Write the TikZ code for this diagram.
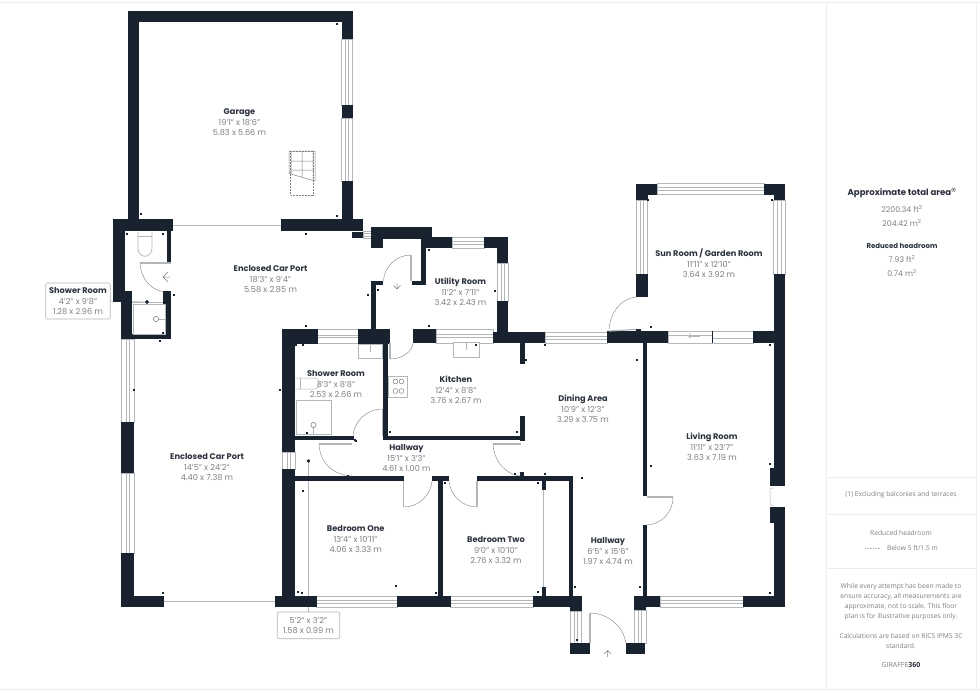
\documentclass[tikz,border=0pt]{standalone}
\usepackage{fontspec}
\setmainfont{Poppins}
\newfontfamily\panelf{Open Sans}
\usetikzlibrary{arrows.meta}
\definecolor{wallc}{HTML}{19232F}
\definecolor{glassc}{HTML}{B4B7BA}
\definecolor{titlec}{HTML}{2B323C}
\definecolor{dimc}{HTML}{7C8084}
\definecolor{panelc}{HTML}{ECEDEE}
\tikzset{
  wallf/.style={fill=wallc,draw=none},
  glass/.style={draw=glassc,line width=0.7pt,fill=white},
  fixture/.style={draw=glassc,line width=0.9pt,fill=white},
  thinf/.style={draw=glassc,line width=0.6pt},
  doorarc/.style={draw=gray!85,line width=0.5pt},
  leaf/.style={draw=glassc,line width=1.2pt},
  lab/.style={align=center,inner sep=0pt,font=\fontsize{8.2}{10}\selectfont,text=dimc},
  tbox/.style={draw=glassc,line width=0.7pt,rounded corners=1.5pt,fill=white,minimum height=0pt},
  paneltxt/.style={inner sep=0pt,align=center,font=\panelf\fontsize{6.7}{10}\selectfont,text=dimc},
  leader/.style={draw=glassc,line width=0.6pt},
}
\newcommand{\wl}[4]{\fill[wallc] (#1,#2) rectangle (#3,#4);}
\newcommand{\winH}[4]{\fill[white] (#1,#2) rectangle (#3,#4);
  \draw[glass] (#1,#2) rectangle (#3,#4);
  \draw[thinf] (#1,{(#2+#4)/2-1.3}) -- (#3,{(#2+#4)/2-1.3}) (#1,{(#2+#4)/2+1.3}) -- (#3,{(#2+#4)/2+1.3});}
\newcommand{\winV}[4]{\fill[white] (#1,#2) rectangle (#3,#4);
  \draw[glass] (#1,#2) rectangle (#3,#4);
  \draw[thinf] ({(#1+#3)/2-1.7},#2) -- ({(#1+#3)/2-1.7},#4) ({(#1+#3)/2+1.7},#2) -- ({(#1+#3)/2+1.7},#4);}
\newcommand{\tk}[2]{\fill[wallc] (#1-0.6,#2-0.6) rectangle (#1+0.6,#2+0.6);}
\newcommand{\rlab}[6]{\node[lab] (#1) at (#2,#3) {{\bfseries\color{titlec}#4}\\[1pt]#5\\#6};}
\begin{document}
\begin{tikzpicture}[x=1pt,y=-1pt]
\useasboundingbox (0,0) rectangle (980,693);
\fill[white] (0,0) rectangle (980,693);
% page frame / panel
\draw[panelc,line width=1pt] (0,3) -- (980,3);
\draw[panelc,line width=1pt] (0,689) -- (980,689);
\draw[panelc,line width=1pt] (826.5,3) -- (826.5,689);
\draw[panelc,line width=1pt] (976,3) -- (976,689);
\draw[panelc,line width=1pt] (826.5,477) -- (976,477);
\draw[panelc,line width=1pt] (826.5,514) -- (976,514);
\draw[panelc,line width=1pt] (826.5,568) -- (976,568);

% === Dimension boxes and leaders (beneath the walls) ===
\node[circle,fill=wallc,inner sep=0pt,minimum size=3.8pt] (dotA) at (147,302) {};
\node[circle,fill=wallc,inner sep=0pt,minimum size=3.8pt] (dotB) at (308.5,461) {};
\node[tbox,minimum width=64.5pt,minimum height=36pt,inner sep=0pt] (boxA) at (78,301) {};
\node[tbox,minimum width=62.5pt,minimum height=26.7pt,inner sep=0pt] (boxB) at (308.5,625.3) {};
\draw[leader] (boxA.east) -- (dotA);
\draw[leader] (dotB) -- (boxB.north);

% === Windows ===
\winV{341.5}{39}{352.5}{105}
\winV{341.5}{118}{352.5}{181}
\winV{121}{339}{134}{422}
\winV{121}{473}{134}{553}
\winV{282}{452}{295}{469}
\winH{317.5}{329}{358}{343.5}
\winH{316}{596}{397}{607}
\winH{450}{596}{533}{607}
\winH{436}{329}{493}{343}
\winH{452}{237}{484}{248}
\winV{497.3}{263}{508}{301}
\winH{545}{332}{607}{343}
\winH{657}{183.5}{764}{194.5}
\winV{636}{200}{647.5}{274}
\winV{773.5}{200}{785}{274}
\winH{660}{596}{743}{607}
\winV{570}{611}{581.5}{643}
\winV{634}{610}{646}{643}
\winH{363}{231}{371}{238}
% glazed door of sun room
\draw[glass] (668,331) rectangle (753,343);
\draw[thinf] (668,335) -- (712.5,335) (712.5,338.5) -- (753,338.5);
\fill[wallc] (712,331) rectangle (713.3,343);
\draw[thinf] (690,333) -- (690,338) (687.5,335.5) -- (690,338) -- (692.5,335.5);
\draw[thinf] (690,336) -- (700,336);

% === Garage ===
\wl{127.5}{11.5}{352.5}{22.5}
\wl{127.5}{11.5}{138.5}{225}
\wl{341.5}{11.5}{352.5}{39}
\wl{341.5}{105}{352.5}{118}
\wl{341.5}{181}{352.5}{225}
\wl{281}{219}{363}{231}
\wl{113}{219}{173}{231}
\draw[leaf,line width=1pt] (173,225) -- (281,225);
\wl{352}{232}{363}{238}
% stairs
\draw[thinf,line width=0.5pt,densely dotted,draw=gray] (290,151) rectangle (313.5,195);
\draw[thinf,line width=0.5pt,draw=gray] (289,151) -- (289,173.5) -- (315,181) -- (315,151) -- cycle
 (291,151) -- (291,173.5) (313,151) -- (313,180) (302,151) -- (302,177) (291,161) -- (313,161) (291,170) -- (313,170);

% === Shower room, upper-left ===
\wl{113}{219}{124.5}{302}
\wl{121}{291}{132}{339}
\wl{121}{334}{171}{339}
\wl{167}{231}{171}{263}
\wl{163}{291}{171}{339}
% toilet
\draw[fixture,line width=.7pt] (138,232) -- (138,248) .. controls (138,259) and (152,259) .. (152,248) -- (152,232);
\draw[thinf] (138,236) -- (152,236);
% door
\draw[leaf] (140,263) -- (171,263);
\draw[doorarc] (140,263) .. controls (141,280) and (152,290) .. (163,291.5);
\draw[draw=gray,line width=.5pt] (170,277) -- (163,277) (168,272) -- (163,277) -- (168,282);
% shower
\draw[fixture] (133,304) rectangle (165.5,334);
\draw[thinf,draw=gray] (156,319) circle[radius=2.6];
\draw[thinf] (158.6,319) -- (166,319);
\draw[thinf] (132,302.5) -- (163,302.5);
\node[circle,fill=wallc,inner sep=0pt,minimum size=3.8pt] (dotAtop) at (147,302) {};

% === West wall carport ===
\wl{121}{422}{134}{473}
\wl{121}{553}{134}{606.7}
\wl{121}{596}{163.5}{606.7}
\draw[leaf,line width=1pt] (163.5,601.5) -- (275,601.5);
\wl{275}{596}{316.5}{606.7}

% === Central west wall ===
\wl{282}{329}{295}{452}
\wl{282}{469}{295}{600}
\wl{282}{329}{317.5}{343.5}
\wl{358}{329}{390}{344}
\wl{383.3}{344}{388}{440}
\wl{295}{435.7}{353.5}{440}
\wl{383}{435.7}{525}{440}
\wl{295}{476}{404}{481}
\wl{432}{476}{449}{481}
\wl{477}{476}{573}{481}
\wl{438}{481}{443}{600}
\wl{569}{476}{573.3}{600}
\wl{396.7}{596}{450.5}{607}
\wl{533}{596}{581.5}{607}
\wl{570}{600}{581.5}{611}
\wl{570}{643}{590}{654}
\wl{625.7}{643}{645}{654}
\wl{520}{472}{524}{476}
\wl{541.5}{481}{545.5}{490}
\wl{541.5}{587}{545.5}{596}
\draw[leaf] (543.5,490) -- (543.5,587);

% === Doors in hall ===
\draw[leaf] (319,444) -- (352,444);
\draw[doorarc] (319,444) .. controls (320,463) and (333,475) .. (352,476);
\draw[leaf] (493,444) -- (521,444);
\draw[doorarc] (493,444) .. controls (494,461) and (505,474) .. (520,476);
\draw[leaf] (382.5,409) -- (382.5,436);
\draw[doorarc] (382.5,409) .. controls (366,409) and (354,422) .. (353,436);
\draw[leaf] (403.7,481) -- (403.7,507);
\draw[doorarc] (403.7,507) .. controls (419,507) and (431,495) .. (432,481);
\draw[leaf] (477,481) -- (477,507);
\draw[doorarc] (477,507) .. controls (462,507) and (450,495) .. (449,481);
\draw[leaf] (390,343) -- (390,359);
\draw[doorarc] (390,359) .. controls (402,359) and (412,352) .. (413,343);

% shower room 2 fixtures
\draw[fixture] (296,400) rectangle (331,434.7);
\draw[thinf,draw=gray] (313.5,425) circle[radius=2.6];
\draw[thinf] (313.5,427.6) -- (313.5,434);
\draw[fixture] (358.5,344) rectangle (382,358);
\draw[thinf] (370.5,344) -- (370.5,352);
\draw[thinf,line width=.5pt] (295,378) -- (315,378) .. controls (321,378) and (321,389) .. (315,389) -- (295,389);
\draw[thinf,line width=.5pt] (300,378) -- (300,389);

% kitchen
\wl{413}{329}{436}{343}
\draw[fixture] (453.5,342.5) rectangle (479.5,357);
\draw[thinf] (466.5,342.5) -- (466.5,350);
\draw[fixture,line width=.6pt] (388,376) rectangle (407,397);
\foreach \cx/\cy in {394.5/381.5,400.5/381.5,394.5/391,400.5/391}{
  \draw[thinf,line width=.5pt,draw=gray] (\cx+1,\cy) circle[radius=2.4];
}
\wl{520}{343}{524.5}{363.5}
\wl{520}{416}{524.5}{441}

% === Utility ===
\wl{371}{281}{376}{329}
\wl{371}{281}{383}{285}
\wl{370.7}{227}{431.7}{238.5}
\wl{370.7}{227}{382.7}{248}
\wl{420.7}{238}{425.7}{285}
\wl{411.7}{281}{425.7}{285}
\wl{421}{237}{452}{248}
\wl{484}{237}{508}{248}
\wl{497.3}{237}{508}{263}
\wl{497.3}{301}{508}{343}
\wl{493}{332}{545}{343}
\draw[leaf] (411,255) -- (411,281);
\draw[doorarc] (411,255) .. controls (396,255) and (384,267) .. (383.5,281);
\draw[draw=gray,line width=.5pt] (397,283) -- (397,289) (393.5,285.5) -- (397,289) -- (400.5,285.5);

% === Sun / Living ===
\wl{607}{331}{668}{343}
\wl{636}{329}{641}{331}
\wl{753}{331}{785}{343}
\wl{636}{183.5}{657}{194.5}
\wl{636}{183.5}{647.5}{200}
\wl{764}{183.5}{785}{194.5}
\wl{773.5}{183.5}{785}{200}
\wl{636}{274}{647.5}{297}
\wl{773.5}{274}{785}{486}
\wl{773.5}{507}{785}{606.7}
\wl{770}{468}{774}{486}
\wl{770}{507}{774}{523}
\wl{743}{596}{785}{606.7}
\wl{634}{596}{660}{607}
\wl{634}{607}{646}{610}
\wl{643}{343}{647}{496}
\wl{642.5}{525}{647}{600}
\draw[leaf] (609,331) -- (636,329.5);
\draw[doorarc] (636,297) .. controls (620,299) and (610,313) .. (609,330);
\draw[leaf] (647,497) -- (673,497);
\draw[doorarc] (673,497) .. controls (673,513) and (661,524) .. (647,525);
\draw[thinf,line width=.5pt] (774,488) -- (770,488) -- (770,503) .. controls (770,506) and (772,506) .. (774,506);
% entrance door
\draw[leaf] (590,613) -- (590,643);
\draw[doorarc] (590,613) .. controls (608,613) and (624,627) .. (625.7,643);
\draw[draw=gray,line width=.5pt] (607.7,657) -- (607.7,650.5) (604,654) -- (607.7,650.5) -- (611.4,654);

% tiny survey ticks
\tk{137}{22}\tk{337}{24}\tk{141}{214}\tk{337}{216}\tk{306}{234}
\tk{127}{234}\tk{163}{234}\tk{174}{295}\tk{163}{333}\tk{160}{341}
\tk{306}{326}\tk{134}{390}\tk{280}{390}\tk{296}{345}\tk{303}{345}
\tk{307}{433}\tk{355}{440}\tk{356}{441}\tk{348}{476}
\tk{303}{491}\tk{163}{593}\tk{298}{592}\tk{302}{593}\tk{396}{586}
\tk{368}{295}\tk{378}{290}\tk{429}{250}\tk{495}{291}\tk{429}{326}
\tk{476}{345}\tk{545}{345}\tk{526}{360}\tk{390}{432}\tk{517}{432}
\tk{637}{360}\tk{651}{466}\tk{648}{200}\tk{772}{200}\tk{651}{327}
\tk{770}{345}\tk{770}{464}\tk{770}{593}\tk{577}{640}\tk{575}{587}
\tk{640}{587}\tk{538}{592}\tk{538}{483}\tk{445}{483}\tk{582}{478}
\tk{545}{474}\tk{515}{474}\tk{436}{593}

% === Room labels ===
\rlab{garage}{239.5}{122.5}{Garage}{19'1" x 18'6"}{5.83 x 5.66 m}
\rlab{cpa}{270.5}{279.5}{Enclosed Car Port}{18'3" x 9'4"}{5.58 x 2.85 m}
\rlab{srA}{78}{301}{Shower Room}{4'2" x 9'8"}{1.28 x 2.96 m}
\rlab{cpb}{207}{467}{Enclosed Car Port}{14'5" x 24'2"}{4.40 x 7.38 m}
\rlab{srB}{336}{383.5}{Shower Room}{8'3" x 8'8"}{2.53 x 2.66 m}
\rlab{util}{460.5}{291.5}{Utility Room}{11'2" x 7'11"}{3.42 x 2.43 m}
\rlab{kit}{456}{389.5}{Kitchen}{12'4" x 8'8"}{3.76 x 2.67 m}
\rlab{din}{583}{408.5}{Dining Area}{10'9" x 12'3"}{3.29 x 3.75 m}
\rlab{halla}{406.5}{458}{Hallway}{15'1" x 3'3"}{4.61 x 1.00 m}
\rlab{liv}{712}{447}{Living Room}{11'11" x 23'7"}{3.63 x 7.19 m}
\rlab{sun}{709}{263}{Sun Room / Garden Room}{11'11" x 12'10"}{3.64 x 3.92 m}
\rlab{bed1}{355.7}{538.5}{Bedroom One}{13'4" x 10'11"}{4.06 x 3.33 m}
\rlab{bed2}{496}{549.5}{Bedroom Two}{9'0" x 10'10"}{2.76 x 3.32 m}
\rlab{hallb}{608}{551}{Hallway}{6'5" x 15'6"}{1.97 x 4.74 m}
\node[lab] (dimB) at (308.5,626) {5'2" x 3'2"\\1.58 x 0.99 m};

% === Panel text ===
\node[lab,font=\bfseries\fontsize{8.6}{10}\selectfont,text=titlec] (ptitle) at (902,192.7) {Approximate total area\textsuperscript{\fontsize{3.5}{4}\selectfont (1)}};
\node[lab,font=\fontsize{7.8}{9}\selectfont] (pa) at (902,209) {2200.34 ft\textsuperscript{2}};
\node[lab,font=\fontsize{7.8}{9}\selectfont] (pb) at (902,223) {204.42 m\textsuperscript{2}};
\node[lab,font=\bfseries\fontsize{7}{9}\selectfont,text=titlec] (prh) at (902,246) {Reduced headroom};
\node[lab,font=\fontsize{7.8}{9}\selectfont] (pc) at (902,259) {7.93 ft\textsuperscript{2}};
\node[lab,font=\fontsize{7.8}{9}\selectfont] (pd) at (902,273) {0.74 m\textsuperscript{2}};
\node[paneltxt] (pexc) at (901,494.5) {(1) Excluding balconies and terraces};
\node[paneltxt] (prh2) at (901,533) {Reduced headroom};
\coordinate (da) at (865,548);
\coordinate (db) at (881,548);
\draw[glassc,line width=.6pt,densely dotted] (da) -- (db);
\node[paneltxt] (pbelow) at (912.5,548) {Below 5 ft/1.5 m};
\node[paneltxt] (pdisc) at (901,602) {While every attempt has been made to\\ensure accuracy, all measurements are\\approximate, not to scale. This floor\\plan is for illustrative purposes only.};
\node[paneltxt] (pcalc) at (901,640.5) {Calculations are based on RICS IPMS 3C\\standard.};
\node[paneltxt,font=\panelf\fontsize{7}{10}\selectfont] (pgir) at (901,664.5) {GIRAFFE{\bfseries\color{titlec}360}};
\end{tikzpicture}
\end{document}
